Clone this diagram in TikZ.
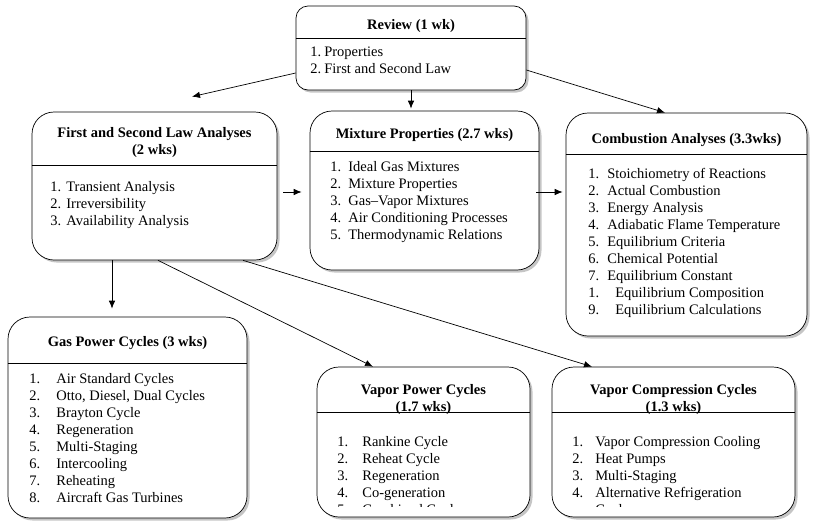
\documentclass[tikz,border=0pt]{standalone}
\usepackage{fontspec}
\setmainfont{Liberation Serif}
\usetikzlibrary{arrows.meta,shadows}
\newlength{\numwd}
\newcommand{\itemno}[1]{\makebox[\numwd][l]{#1}}
\begin{document}
\begin{tikzpicture}[x=1pt, y=-1pt, line width=0.7pt,
  font=\fontsize{14.5}{17}\selectfont,
  box/.style={draw, fill=white, rounded corners=22pt,
    drop shadow={shadow xshift=2.5pt, shadow yshift=-2.5pt, fill=black!45}},
  head/.style={font=\fontsize{14.5}{17}\selectfont\bfseries, align=center, inner sep=0pt},
  list/.style={anchor=north west, align=left, inner sep=0pt,
    /utils/exec={\setlength{\numwd}{#1}}},
  arr/.style={-{Latex[length=8pt,width=6.5pt]}}]
\useasboundingbox (0,0) rectangle (813,520);
% boxes
\node[box, rounded corners=12pt, minimum width=230pt, minimum height=84pt] (review) at (411,48) {};
\node[box, minimum width=245pt, minimum height=148pt] (firstlaw) at (154.5,186) {};
\node[box, minimum width=229pt, minimum height=159pt] (mixture) at (424.5,190.5) {};
\node[box, minimum width=241pt, minimum height=223pt] (combustion) at (686.5,224.5) {};
\node[box, minimum width=239pt, minimum height=201pt] (gascycles) at (127.5,417.5) {};
\node[box, minimum width=213pt, minimum height=150pt] (vaporcycles) at (423.5,442) {};
\node[box, minimum width=243pt, minimum height=150pt] (compcycles) at (673.5,442) {};
% separators
\draw (review.west |- 0,38) -- (review.east |- 0,38);
\draw (firstlaw.west |- 0,165) -- (firstlaw.east |- 0,165);
\draw (mixture.west |- 0,151) -- (mixture.east |- 0,151);
\draw (combustion.west |- 0,154) -- (combustion.east |- 0,154);
\draw (gascycles.west |- 0,363) -- (gascycles.east |- 0,363);
\draw (vaporcycles.west |- 0,412) -- (vaporcycles.east |- 0,412);
\draw (compcycles.west |- 0,412) -- (compcycles.east |- 0,412);
% headers
\node[head] (reviewhead) at (411,26) {Review (1 wk)};
\node[head] (firstlawhead) at (154.5,143) {First and Second Law Analyses\\(2 wks)};
\node[head] (mixturehead) at (424.5,135) {Mixture Properties (2.7 wks)};
\node[head] (combustionhead) at (686.5,140) {Combustion Analyses (3.3wks)};
\node[head] (gashead) at (127.5,343) {Gas Power Cycles (3 wks)};
\node[head] (vaporhead) at (423.5,399.5) {Vapor Power Cycles\\(1.7 wks)};
\node[head] (comphead) at (673.5,399.5) {Vapor Compression Cycles\\(1.3 wks)};
% lists
\node[list=14pt] (reviewlist) at (310,47)
  {\itemno{1.}Properties\\ \itemno{2.}First and Second Law};
\node[list=16pt] (firstlawlist) at (50,181)
  {\itemno{1.}Transient Analysis\\ \itemno{2.}Irreversibility\\ \itemno{3.}Availability Analysis};
\node[list=18pt] (mixturelist) at (330,161)
  {\itemno{1.}Ideal Gas Mixtures\\ \itemno{2.}Mixture Properties\\ \itemno{3.}Gas--Vapor Mixtures\\
  \itemno{4.}Air Conditioning Processes\\ \itemno{5.}Thermodynamic Relations};
\node[list=19pt] (combustionlist) at (588,168)
  {\itemno{1.}Stoichiometry of Reactions\\ \itemno{2.}Actual Combustion\\ \itemno{3.}Energy Analysis\\
  \itemno{4.}Adiabatic Flame Temperature\\ \itemno{5.}Equilibrium Criteria\\ \itemno{6.}Chemical Potential\\
  \itemno{7.}Equilibrium Constant\\ \makebox[27pt][l]{1.}Equilibrium Composition\\
  \makebox[27pt][l]{9.}Equilibrium Calculations};
\node[list=27pt] (gaslist) at (29,373)
  {\itemno{1.}Air Standard Cycles\\ \itemno{2.}Otto, Diesel, Dual Cycles\\ \itemno{3.}Brayton Cycle\\
  \itemno{4.}Regeneration\\ \itemno{5.}Multi-Staging\\ \itemno{6.}Intercooling\\
  \itemno{7.}Reheating\\ \itemno{8.}Aircraft Gas Turbines};
\begin{scope}
\clip (317,412) rectangle (795,506);
\node[list=25pt] (vaporlist) at (337,436)
  {\itemno{1.}Rankine Cycle\\ \itemno{2.}Reheat Cycle\\ \itemno{3.}Regeneration\\
  \itemno{4.}Co-generation\\ \itemno{5.}Combined Cycles};
\node[list=23pt] (complist) at (572,436)
  {\itemno{1.}Vapor Compression Cooling\\ \itemno{2.}Heat Pumps\\ \itemno{3.}Multi-Staging\\
  \itemno{4.}Alternative Refrigeration\\ \itemno{}Cycles};
\end{scope}
% connectors
\draw[arr] ([yshift=-25pt]review.west) -- ([shift={(37.5pt,15pt)}]firstlaw.north);
\draw[arr, shorten >=2pt] (review.south) -- (review.south |- mixture.north);
\draw[arr] ([yshift=-22pt]review.east) -- ([xshift=-21.5pt]combustion.north);
\draw[arr, shorten <=6pt, shorten >=8pt] ([yshift=-6pt]firstlaw.east) -- ([yshift=-6pt]firstlaw.east -| mixture.west);
\draw[arr, shorten <=-3pt, shorten >=3pt] ([yshift=-1.5pt]mixture.east) -- ([yshift=-1.5pt]mixture.east -| combustion.west);
\draw[arr, shorten >=8pt] ([xshift=-42.5pt]firstlaw.south) -- ([xshift=-42.5pt]firstlaw.south |- gascycles.north);
\draw[arr] ([xshift=3.5pt]firstlaw.south) -- ([xshift=-50.5pt]vaporcycles.north);
\draw[arr] ([xshift=88.5pt]firstlaw.south) -- ([xshift=-81.5pt]compcycles.north);
\end{tikzpicture}
\end{document}
